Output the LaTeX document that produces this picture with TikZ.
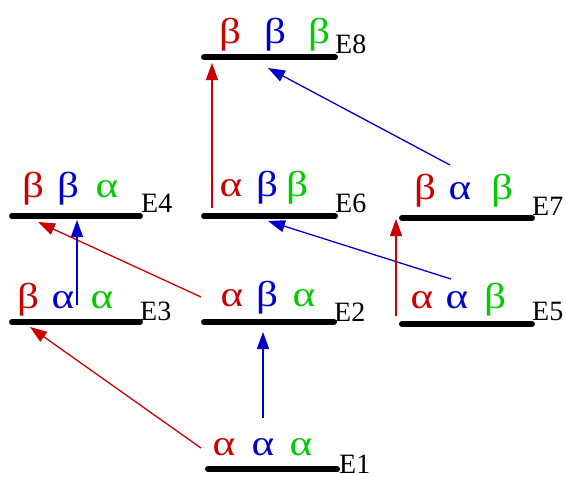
\documentclass[tikz,border=0pt]{standalone}
\usepackage{fontspec}
\setmainfont{Liberation Serif}
\newfontfamily\gkfont[FakeStretch=1.2]{Liberation Serif}
\usetikzlibrary{arrows.meta}
\definecolor{cr}{RGB}{204,0,0}
\definecolor{cb}{RGB}{0,0,204}
\definecolor{cg}{RGB}{0,204,0}
\tikzset{
  bar/.style={line width=6pt, line cap=round, black},
  lbl/.style={anchor=base west, inner sep=0pt, font=\fontsize{28}{30}\selectfont},
  gk/.style={anchor=base, inner sep=0pt, font=\gkfont\fontsize{36}{40}\selectfont},
  arr/.style={line width=1.3pt, -{Triangle[length=17pt,width=12pt]}},
}
\begin{document}
\begin{tikzpicture}[x=1pt,y=-1pt]
\useasboundingbox (0,0) rectangle (566,477);
% bars
\coordinate (E8l) at (204,57); \coordinate (E8r) at (335,57);
\coordinate (E4l) at (12,216); \coordinate (E4r) at (140,216);
\coordinate (E6l) at (204,216); \coordinate (E6r) at (335,216);
\coordinate (E7l) at (402,218); \coordinate (E7r) at (532,218);
\coordinate (E3l) at (12,322); \coordinate (E3r) at (140,322);
\coordinate (E2l) at (204,322); \coordinate (E2r) at (334,322);
\coordinate (E5l) at (402,324); \coordinate (E5r) at (532,324);
\coordinate (E1l) at (208,469); \coordinate (E1r) at (337,469);
\foreach \n in {E1,E2,E3,E4,E5,E6,E7,E8} \draw[bar] (\n l) -- (\n r);
% labels
\node[lbl] (lE8) at (335,53) {E8};
\node[lbl] (lE4) at (141,212) {E4};
\node[lbl] (lE6) at (335,212) {E6};
\node[lbl] (lE7) at (532,215) {E7};
\node[lbl] (lE3) at (140,320) {E3};
\node[lbl] (lE2) at (334,321) {E2};
\node[lbl] (lE5) at (532,320) {E5};
\node[lbl] (lE1) at (339,473) {E1};
% greek
\node[gk,cr] (g81) at (230,43) {β}; \node[gk,cb] (g82) at (275,43) {β}; \node[gk,cg] (g83) at (319,43) {β};
\node[gk,cr] (g41) at (33,197) {β}; \node[gk,cb] (g42) at (68,197) {β}; \node[gk,cg] (g43) at (107,197) {α};
\node[gk,cr] (g61) at (231,196) {α}; \node[gk,cb] (g62) at (267,196) {β}; \node[gk,cg] (g63) at (297,196) {β};
\node[gk,cr] (g71) at (425,199) {β}; \node[gk,cb] (g72) at (460,199) {α}; \node[gk,cg] (g73) at (502,199) {β};
\node[gk,cr] (g31) at (28,308) {β}; \node[gk,cb] (g32) at (63,308) {α}; \node[gk,cg] (g33) at (102,308) {α};
\node[gk,cr] (g21) at (232,306) {α}; \node[gk,cb] (g22) at (267,306) {β}; \node[gk,cg] (g23) at (304,306) {α};
\node[gk,cr] (g51) at (422,308) {α}; \node[gk,cb] (g52) at (457,308) {α}; \node[gk,cg] (g53) at (495,308) {β};
\node[gk,cr] (g11) at (224,455) {α}; \node[gk,cb] (g12) at (263,455) {α}; \node[gk,cg] (g13) at (301,455) {α};
% arrow endpoints
\coordinate (a1s) at (201,448); \coordinate (a1t) at (30,327);
\coordinate (a2s) at (263,418); \coordinate (a2t) at (263,332);
\coordinate (a3s) at (201,297); \coordinate (a3t) at (38,222);
\coordinate (a4s) at (77,305); \coordinate (a4t) at (77,220);
\coordinate (a5s) at (212,208); \coordinate (a5t) at (212,63);
\coordinate (a6s) at (450,165); \coordinate (a6t) at (268,68);
\coordinate (a7s) at (451,279); \coordinate (a7t) at (268,221);
\coordinate (a8s) at (396,316); \coordinate (a8t) at (396,219);
\draw[arr,cr] (a1s) -- (a1t);
\draw[arr,cb] (a2s) -- (a2t);
\draw[arr,cr] (a3s) -- (a3t);
\draw[arr,cb] (a4s) -- (a4t);
\draw[arr,cr] (a5s) -- (a5t);
\draw[arr,cb] (a6s) -- (a6t);
\draw[arr,cb] (a7s) -- (a7t);
\draw[arr,cr] (a8s) -- (a8t);
\end{tikzpicture}
\end{document}
